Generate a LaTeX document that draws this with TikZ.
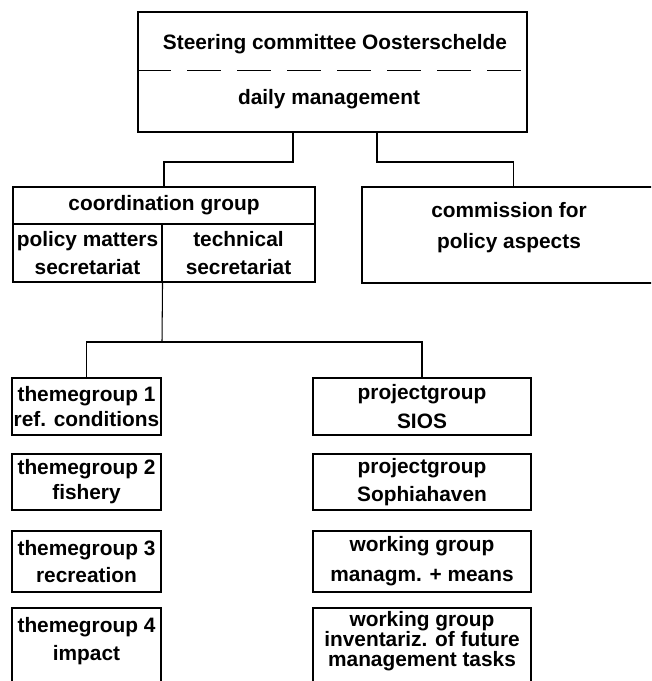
\documentclass[tikz,border=0pt]{standalone}
\usepackage{fontspec}
\setmainfont{Liberation Sans}

\newcommand{\orgfont}{\fontsize{17.8}{21.5}\selectfont\bfseries}
\newcommand{\orgtightfont}{\fontsize{17.8}{17}\selectfont\bfseries}

\tikzset{
  orgbox/.style={draw, line width=0.9pt, inner sep=0pt, align=center, font=\orgfont},
  orgtext/.style={inner sep=0pt, align=center, font=\orgfont},
  orgline/.style={line width=0.9pt},
  splitline/.style={line width=0.8pt, dash pattern=on 1cm off 0.5cm},
}

\begin{document}
\begin{tikzpicture}[x=0.03cm, y=0.03cm]

  % Page frame (651 x 681 px), boxes at the edges run off the page
  \useasboundingbox (0,0) rectangle (651,-681);
  \clip (0,0) rectangle (651,-681);

  % Steering committee, split by a dashed line
  \node[orgbox, minimum width=11.67cm, minimum height=3.6cm] (steer) at (332.5,-72) {};
  \node[orgtext] (steertitle) at (335,-44) {Steering committee Oosterschelde};
  \node[orgtext] (daily) at (329,-99) {daily management};
  \coordinate (split) at (0,-70);
  \draw[splitline] (steer.west |- split) -- (steer.east |- split);

  % Coordination group with the two secretariats
  \node[orgbox, minimum width=9.06cm, minimum height=1.11cm] (coord) at (164,-205.5) {coordination group};
  \node[orgbox, minimum width=4.47cm, minimum height=1.74cm] (policy) at (87.5,-253) {policy matters\\[2pt]secretariat};
  \node[orgbox, minimum width=4.59cm, minimum height=1.74cm] (techn) at (238.5,-253) {technical\\[2pt]secretariat};

  % Commission
  \node[orgbox, minimum width=9.09cm, minimum height=2.88cm] (comm) at (513.5,-235) {};
  \node[orgtext] (commtxt) at (509,-227.5) {commission for\\[5pt]policy aspects};

  % Theme groups (left column)
  \node[orgbox, minimum width=4.47cm, minimum height=1.71cm] (theme1) at (86.5,-406.5) {themegroup 1\\ref. conditions};
  \node[orgbox, minimum width=4.47cm, minimum height=1.68cm] (theme2) at (86.5,-482) {themegroup 2\\fishery};
  \node[orgbox, minimum width=4.47cm, minimum height=1.83cm] (theme3) at (86.5,-561.5) {themegroup 3\\[2pt]recreation};
  \node[orgbox, minimum width=4.47cm, minimum height=2.76cm] (theme4) at (86.5,-654) {};
  \node[orgtext] (theme4txt) at (86.5,-641) {themegroup 4\\[3pt]impact};

  % Project and working groups (right column)
  \node[orgbox, minimum width=6.54cm, minimum height=1.71cm] (proj1) at (422,-406.5) {projectgroup\\[4pt]SIOS};
  \node[orgbox, minimum width=6.54cm, minimum height=1.68cm] (proj2) at (422,-482) {projectgroup\\[2.5pt]Sophiahaven};
  \node[orgbox, minimum width=6.54cm, minimum height=1.83cm] (work1) at (422,-561.5) {working group\\[4pt]managm. + means};
  \node[orgbox, minimum width=6.54cm, minimum height=2.76cm] (work2) at (422,-654) {};
  \node[orgtext, font=\orgtightfont] (work2txt) at (422,-641) {working group\\inventariz. of future\\management tasks};

  % Connectors
  \coordinate (fork1) at (293,-162);
  \coordinate (fork2) at (377,-162);
  \coordinate (fork3) at (162,-342);
  \draw[orgline] (fork1 |- steer.south) -- (fork1) -| (coord.north);
  \draw[orgline] (fork2 |- steer.south) -- (fork2) -| (comm.north);
  \draw[orgline] (policy.south east) -- (fork3);
  \draw[orgline] (theme1.north) |- (fork3) -| (proj1.north);

\end{tikzpicture}
\end{document}
